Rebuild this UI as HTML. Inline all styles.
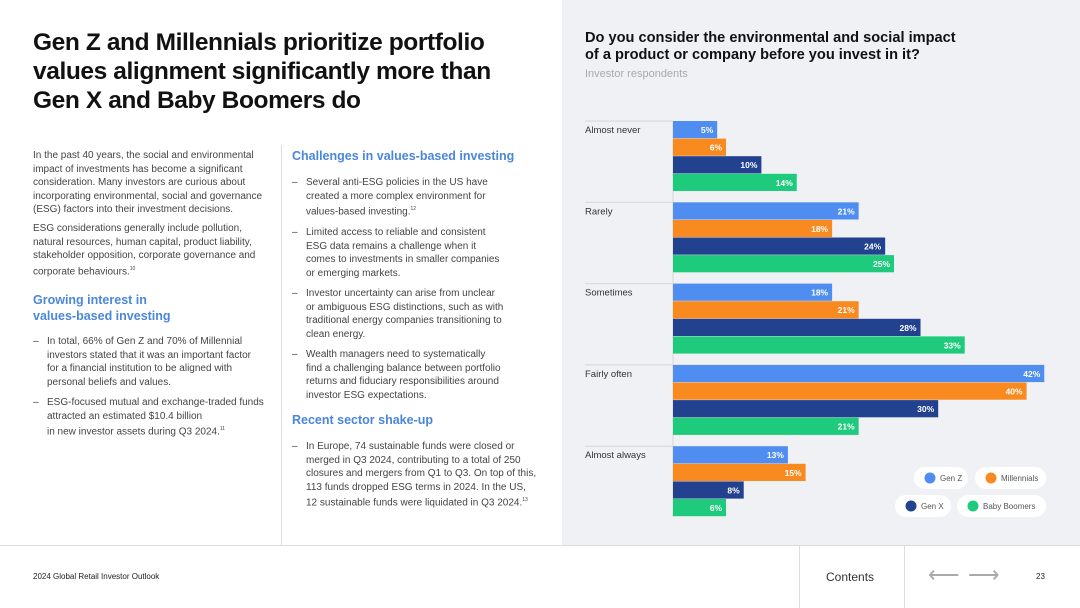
<!DOCTYPE html>
<html><head><meta charset="utf-8">
<style>
*{margin:0;padding:0;box-sizing:border-box}
body{width:1080px;height:608px;position:relative;overflow:hidden;background:#fff;font-family:"Liberation Sans",Arial,sans-serif;color:#333}
.abs{position:absolute}
.title{left:33px;top:28px;font-size:24.5px;font-weight:bold;line-height:29px;color:#111;letter-spacing:-0.4px;width:500px}
.body{font-size:10px;line-height:13.6px;color:#444;white-space:nowrap}
.h{font-size:12.5px;font-weight:bold;color:#4a86dc;line-height:16px}
.bl{padding-left:14px}
.bl:before{content:"–";position:absolute;left:0;top:0}
sup{font-size:5px}
#panel{left:562px;top:0;width:518px;height:545px;background:#f0f1f4}
</style></head><body>
<div class="abs" id="panel"></div>
<div class="abs title">Gen Z and Millennials prioritize portfolio values alignment significantly more than Gen X and Baby Boomers do</div>

<div class="abs body" style="left:33px;top:149px">In the past 40 years, the social and environmental<br>impact of investments has become a significant<br>consideration. Many investors are curious about<br>incorporating environmental, social and governance<br>(ESG) factors into their investment decisions.</div>
<div class="abs body" style="left:33px;top:222px">ESG considerations generally include pollution,<br>natural resources, human capital, product liability,<br>stakeholder opposition, corporate governance and<br>corporate behaviours.<sup>10</sup></div>
<div class="abs h" style="left:33px;top:292px;width:240px">Growing interest in<br>values-based investing</div>
<div class="abs body bl" style="left:33px;top:335px">In total, 66% of Gen Z and 70% of Millennial<br>investors stated that it was an important factor<br>for a financial institution to be aligned with<br>personal beliefs and values.</div>
<div class="abs body bl" style="left:33px;top:396px">ESG-focused mutual and exchange-traded funds<br>attracted an estimated $10.4 billion<br>in new investor assets during Q3 2024.<sup>11</sup></div>

<div class="abs" style="left:281px;top:145px;width:1px;height:400px;background:#ddd"></div>

<div class="abs h" style="left:292px;top:148px;width:260px">Challenges in values-based investing</div>
<div class="abs body bl" style="left:292px;top:176px">Several anti-ESG policies in the US have<br>created a more complex environment for<br>values-based investing.<sup>12</sup></div>
<div class="abs body bl" style="left:292px;top:226px">Limited access to reliable and consistent<br>ESG data remains a challenge when it<br>comes to investments in smaller companies<br>or emerging markets.</div>
<div class="abs body bl" style="left:292px;top:287px">Investor uncertainty can arise from unclear<br>or ambiguous ESG distinctions, such as with<br>traditional energy companies transitioning to<br>clean energy.</div>
<div class="abs body bl" style="left:292px;top:348px">Wealth managers need to systematically<br>find a challenging balance between portfolio<br>returns and fiduciary responsibilities around<br>investor ESG expectations.</div>
<div class="abs h" style="left:292px;top:412px;width:260px">Recent sector shake-up</div>
<div class="abs body bl" style="left:292px;top:440px">In Europe, 74 sustainable funds were closed or<br>merged in Q3 2024, contributing to a total of 250<br>closures and mergers from Q1 to Q3. On top of this,<br>113 funds dropped ESG terms in 2024. In the US,<br>12 sustainable funds were liquidated in Q3 2024.<sup>13</sup></div>

<div class="abs" style="left:585px;top:30px;font-size:14.6px;font-weight:bold;line-height:17px;color:#111;white-space:nowrap">Do you consider the environmental and social impact<br>of a product or company before you invest in it?</div>
<div class="abs" style="left:585px;top:68px;font-size:11px;color:#aaa">Investor respondents</div>

<svg class="abs" style="left:0;top:0" width="1080" height="545" id="chart"></svg>

<div class="abs" style="left:0;top:545px;width:1080px;height:1px;background:#ddd"></div>
<div class="abs" style="left:799px;top:545px;width:1px;height:63px;background:#ddd"></div>
<div class="abs" style="left:904px;top:545px;width:1px;height:63px;background:#ddd"></div>
<div class="abs" style="left:33px;top:572px;font-size:8px;color:#222">2024 Global Retail Investor Outlook</div>
<div class="abs" style="left:826px;top:570px;font-size:12px;color:#333">Contents</div>
<div class="abs" style="left:928px;top:564px;font-size:22px;color:#aaa;line-height:22px">⟵</div>
<div class="abs" style="left:968px;top:564px;font-size:22px;color:#aaa;line-height:22px">⟶</div>
<div class="abs" style="left:1036px;top:572px;font-size:8px;color:#222">23</div>

<script>
const categories = ["Almost never","Rarely","Sometimes","Fairly often","Almost always"];
const seriesNames = ["Gen Z","Millennials","Gen X","Baby Boomers"];
const genZ = [5,21,18,42,13];
const millennials = [6,18,21,40,15];
const genX = [10,24,28,30,8];
const babyBoomers = [14,25,33,21,6];
const colors = ["#4f8ef0","#f98a1f","#22418f","#1ecb7d"];
const series = [genZ, millennials, genX, babyBoomers];
const NS = "http://www.w3.org/2000/svg";
const svg = document.getElementById('chart');
const x0 = 673, scale = 8.84, groupTop = 121, groupStep = 81.3, barH = 17.2, barStep = 17.6;
const xs = v => x0 + v * scale;
function mk(tag, attrs){const e=document.createElementNS(NS,tag);for(const k in attrs)e.setAttribute(k,attrs[k]);svg.appendChild(e);return e;}
const axis = mk('line',{x1:x0,y1:groupTop,x2:x0,y2:groupTop+groupStep*4+barStep*4,stroke:'#d6d6d6','stroke-width':1});


categories.forEach((c,i)=>{
  const gy = groupTop + i*groupStep;
  const sep = mk('line',{x1:585,y1:gy,x2:x0,y2:gy,stroke:'#d6d6d6','stroke-width':1});
  
  
  const t = mk('text',{x:585,y:gy+12,'font-size':9.5,fill:'#333','font-family':'Liberation Sans, sans-serif'});
  t.textContent = c;
  
  
  series.forEach((s,j)=>{
    const y = gy + j*barStep;
    const r = mk('rect',{x:x0,y:y,width:xs(s[i])-x0,height:barH,fill:colors[j]});
    
    
    const l = mk('text',{x:xs(s[i])-4,y:y+12,'font-size':8.5,'font-weight':'bold',fill:'#fff','text-anchor':'end','font-family':'Liberation Sans, sans-serif'});
    l.textContent = s[i] + '%';
    
    
  });
});
const legendPos = [[924,478,32],[985,478,49],[905,506,34],[967,506,67]];
seriesNames.forEach((n,j)=>{
  const [lx,ly,w] = legendPos[j];
  const bg = mk('rect',{x:lx-10,y:ly-11,width:w+22,height:22,rx:11,fill:'#fff'});
  
  
  const c = mk('circle',{cx:lx+6,cy:ly,r:5.5,fill:colors[j]});
  
  
  const t = mk('text',{x:lx+16,y:ly+3,'font-size':8,fill:'#555','font-family':'Liberation Sans, sans-serif'});
  t.textContent = n;
  
  
});
</script>
</body></html>
